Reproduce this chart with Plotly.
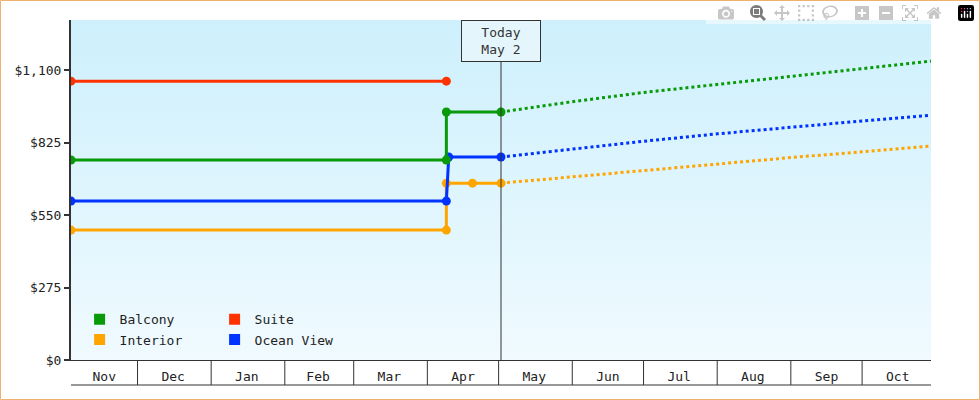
import plotly.graph_objects as go

# history (step) data
bal_x = ['2023-11-03', '2024-04-09', '2024-04-09', '2024-05-02']
bal_y = [759, 759, 941, 941]
suite_x = ['2023-11-03', '2024-04-09']
suite_y = [1058, 1058]
ocean_x = ['2023-11-03', '2024-04-09', '2024-04-10', '2024-05-02']
ocean_y = [603, 603, 770, 770]
int_x = ['2023-11-03', '2024-04-09', '2024-04-09', '2024-04-20', '2024-05-02']
int_y = [493, 493, 671, 671, 671]

# forecast data
fc_x = ['2024-05-02', '2024-06-01', '2024-07-01', '2024-08-01', '2024-09-01', '2024-10-01', '2024-10-30']
bal_fc = [941, 980, 1015, 1045, 1075, 1105, 1134]
ocean_fc = [770, 800, 830, 858, 884, 907, 929]
int_fc = [671, 695, 720, 745, 768, 790, 812]

months = ['Nov', 'Dec', 'Jan', 'Feb', 'Mar', 'Apr', 'May', 'Jun', 'Jul', 'Aug', 'Sep', 'Oct']
month_mid = ['2023-11-17', '2023-12-16', '2024-01-16', '2024-02-15', '2024-03-16', '2024-04-16',
             '2024-05-16', '2024-06-16', '2024-07-16', '2024-08-16', '2024-09-16', '2024-10-16']
month_start = ['2023-12-01', '2024-01-01', '2024-02-01', '2024-03-01', '2024-04-01', '2024-05-01',
               '2024-06-01', '2024-07-01', '2024-08-01', '2024-09-01', '2024-10-01']
yticks = [0, 275, 550, 825, 1100]
ylabels = ['$0', '$275', '$550', '$825', '$1,100']

GREEN, RED, BLUE, ORANGE = '#089a08', '#ff3300', '#0033ff', '#ffa500'
x0, x1 = '2023-11-03', '2024-10-30'
ymax = 1290

fig = go.Figure()

# background gradient
fig.add_trace(go.Scatter(x=[x0, x1, x1, x0, x0], y=[0, 0, ymax, ymax, 0], fill='toself',
                         mode='none', showlegend=False, hoverinfo='skip',
                         fillgradient=dict(type='vertical', colorscale=[[0, '#f0faff'], [1, '#cdf0fc']])))

for x, y, c in [(int_x, int_y, ORANGE), (ocean_x, ocean_y, BLUE), (bal_x, bal_y, GREEN), (suite_x, suite_y, RED)]:
    fig.add_trace(go.Scatter(x=x, y=y, mode='lines+markers', line=dict(color=c, width=3),
                             marker=dict(color=c, size=9), showlegend=False))
for y, c in [(int_fc, ORANGE), (ocean_fc, BLUE), (bal_fc, GREEN)]:
    fig.add_trace(go.Scatter(x=fc_x, y=y, mode='lines', line=dict(color=c, width=3, dash='dot'),
                             showlegend=False))

# legend entries
for name, c, lg in [('Balcony', GREEN, 'legend'), ('Suite', RED, 'legend'),
                    ('Interior', ORANGE, 'legend2'), ('Ocean View', BLUE, 'legend2')]:
    fig.add_trace(go.Scatter(x=[None], y=[None], mode='markers', name=name, legend=lg,
                             marker=dict(color=c, size=11, symbol='square')))

shapes = []
for d in month_start:
    shapes.append(dict(type='line', xref='x', yref='paper', x0=d, x1=d, y0=-25/340, y1=0,
                       line=dict(color='#333', width=1)))
shapes.append(dict(type='line', xref='paper', yref='paper', x0=0, x1=1, y0=-25/340, y1=-25/340,
                   line=dict(color='#333', width=1)))
shapes.append(dict(type='line', xref='x', yref='paper', x0='2024-05-02', x1='2024-05-02', y0=0, y1=300/340,
                   line=dict(color='#333', width=1)))
shapes.append(dict(type='rect', xref='paper', yref='paper', x0=-70.5/860, x1=908.5/860,
                   y0=-39.5/340, y1=359.5/340, line=dict(color='#f0b070', width=1)))
fig.update_layout(shapes=shapes)

fig.add_annotation(x='2024-05-02', y=1, xref='x', yref='paper', yanchor='top', showarrow=False,
                   text='Today<br>May 2', bgcolor='#e4f6fc', bordercolor='#333', borderwidth=1,
                   borderpad=4, font=dict(size=13, color='#333'), width=70)

fig.update_layout(
    width=980, height=400, margin=dict(l=71, r=49, t=20, b=40),
    paper_bgcolor='white', plot_bgcolor='rgba(0,0,0,0)',
    font=dict(family='DejaVu Sans Mono', size=13, color='#222'),
    xaxis=dict(range=[x0, x1], tickvals=month_mid, ticktext=months, ticks='', showgrid=False,
               zeroline=False, showline=True, linecolor='#333', linewidth=1, ticklabelstandoff=4),
    yaxis=dict(range=[0, ymax], tickvals=yticks, ticktext=ylabels, showgrid=False,
               zeroline=False, showline=True, linecolor='#333', linewidth=2, ticks='outside',
               ticklen=5, tickwidth=2, tickcolor='#333'),
    legend=dict(orientation='h', x=0.01, y=0.12, xanchor='left', yanchor='middle',
                bgcolor='rgba(0,0,0,0)', entrywidth=90, entrywidthmode='pixels', itemwidth=30),
    legend2=dict(orientation='h', x=0.01, y=0.06, xanchor='left', yanchor='middle',
                 bgcolor='rgba(0,0,0,0)', entrywidth=90, entrywidthmode='pixels', itemwidth=30),
)

fig.write_html("out.html", post_script="document.body.style.margin='0';")
